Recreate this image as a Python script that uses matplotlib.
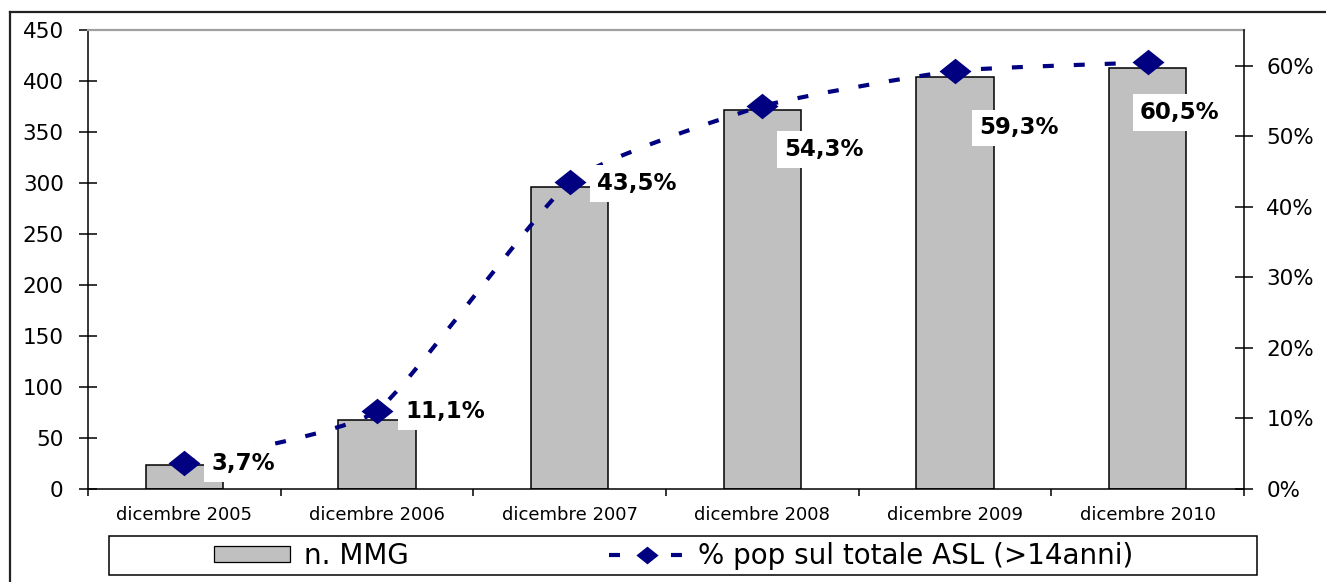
import matplotlib
matplotlib.use("Agg")
import matplotlib.pyplot as plt
import numpy as np
from matplotlib.path import Path
from matplotlib.patches import PathPatch, Rectangle
from matplotlib.lines import Line2D
from matplotlib.legend_handler import HandlerLine2D
from matplotlib.ticker import FuncFormatter

plt.rcParams['font.family'] = ['DejaVu Sans']
plt.rcParams['lines.scale_dashes'] = False

# ---- data ----
categories = ["dicembre 2005", "dicembre 2006", "dicembre 2007",
              "dicembre 2008", "dicembre 2009", "dicembre 2010"]
n_mmg = [24, 68, 296, 372, 404, 413]
pct_pop = [3.7, 11.1, 43.5, 54.3, 59.3, 60.5]
legend_labels = ["n. MMG", "% pop sul totale ASL (>14anni)"]

# label placement (pixels from the marker: right, up)
label_offsets = [(27, -1), (28, -1), (27, -1), (22, -43), (24, -57), (-8, -50)]

W, H = 1326, 582
DPI = 100
NAVY = "#000080"
BAR = "#C0C0C0"
TENSION = 0.08

fig = plt.figure(figsize=(W / DPI, H / DPI), dpi=DPI)
fig.patch.set_facecolor("white")

def fx(px):
    return px / W

def fy(py):
    return 1 - py / H

left, right, top, bottom = 88, 1244, 30, 489
ax = fig.add_axes([fx(left), fy(bottom), fx(right - left), (bottom - top) / H])
ax2 = ax.twinx()

x = np.arange(len(categories))

# bars
ax.bar(x, n_mmg, width=0.40, color=BAR, edgecolor="black", linewidth=1.1, zorder=2)
ax.set_xlim(-0.5, len(categories) - 0.5)
ax.set_ylim(0, 450)
ax.set_yticks(np.arange(0, 451, 50))
ax.set_xticks(x)
ax.set_xticklabels(categories, fontsize=13)
ax.tick_params(axis="x", which="major", length=0, pad=12.5)
ax.set_xticks(np.arange(-0.5, len(categories), 1), minor=True)
ax.tick_params(axis="x", which="minor", direction="out", length=5, width=1.1)
ax.tick_params(axis="y", direction="inout", length=13, width=1.1, labelsize=15.5, pad=11)

for s in ("left", "bottom"):
    ax.spines[s].set_color("black")
    ax.spines[s].set_linewidth(1.1)
ax.spines["top"].set_color("#A0A0A0")
ax.spines["top"].set_linewidth(1.6)
ax.spines["right"].set_visible(False)

# percentage series on the secondary axis
frac = np.array(pct_pop) / 100.0
ax2.set_ylim(0, 0.651)
ax2.set_yticks(np.arange(0, 0.61, 0.1))
ax2.yaxis.set_major_formatter(FuncFormatter(lambda v, _: f"{v * 100:.0f}%"))
ax2.tick_params(axis="y", direction="inout", length=13, width=1.1, labelsize=15.5, pad=9.5)
for s in ("top", "left", "bottom"):
    ax2.spines[s].set_visible(False)
ax2.spines["right"].set_color("black")
ax2.spines["right"].set_linewidth(1.1)

# smoothed connecting curve (cardinal spline as cubic Bezier segments)
pts = np.column_stack([x, frac])
ext = np.vstack([pts[0], pts, pts[-1]])
verts = [tuple(pts[0])]
codes = [Path.MOVETO]
for i in range(len(pts) - 1):
    p0, p1, p2, p3 = ext[i], ext[i + 1], ext[i + 2], ext[i + 3]
    c1 = p1 + (p2 - p0) * TENSION
    c2 = p2 - (p3 - p1) * TENSION
    verts += [tuple(c1), tuple(c2), tuple(p2)]
    codes += [Path.CURVE4] * 3

DASH = (0, (7.9, 14.4))
curve = PathPatch(Path(verts, codes), fill=False, edgecolor=NAVY, linewidth=3.0,
                  linestyle=DASH, capstyle="butt", zorder=2)
ax2.add_patch(curve)

diamond = Path([(-1, 0), (0, 0.8), (1, 0), (0, -0.8), (-1, 0)],
               [Path.MOVETO, Path.LINETO, Path.LINETO, Path.LINETO, Path.CLOSEPOLY])
ax2.plot(x, frac, linestyle="none", marker=diamond, markersize=23,
         color=NAVY, markeredgewidth=0, zorder=3)

for xi, fi, v, (dx, dy) in zip(x, frac, pct_pop, label_offsets):
    txt = f"{v:.1f}%".replace(".", ",")
    ax2.annotate(txt, xy=(xi, fi), xytext=(dx, dy), textcoords="offset pixels",
                 ha="left", va="center", fontsize=16.5, fontweight="bold",
                 bbox=dict(boxstyle="square,pad=0.3", facecolor="white",
                           edgecolor="none"),
                 zorder=4)

# legend
bar_handle = Rectangle((0, 0), 1, 1, facecolor=BAR, edgecolor="black", linewidth=0.9)
line_handle = Line2D([], [], color=NAVY, linewidth=3.0, linestyle=DASH,
                     marker=diamond, markersize=16, markeredgewidth=0,
                     dash_capstyle="butt")

leg = fig.legend([bar_handle, line_handle], legend_labels, ncol=2,
                 loc="center", bbox_to_anchor=(fx(674), fy(556)),
                 frameon=False, fontsize=20, handlelength=2.73, handleheight=0.48,
                 handletextpad=0.5, columnspacing=7.2,
                 handler_map={Line2D: HandlerLine2D(numpoints=1)})

fig.add_artist(Rectangle((fx(109), fy(575)), fx(1257 - 109), (575 - 536) / H,
                         transform=fig.transFigure, fill=False,
                         edgecolor="black", linewidth=1.1))

# chart area border
fig.add_artist(Line2D([fx(10), fx(10)], [fy(12), -0.1], transform=fig.transFigure,
                      color="#222222", linewidth=1.6))
fig.add_artist(Line2D([fx(10), 1.1], [fy(12), fy(12)], transform=fig.transFigure,
                      color="#222222", linewidth=1.6))

fig.savefig("out.png", dpi=DPI, facecolor="white")
